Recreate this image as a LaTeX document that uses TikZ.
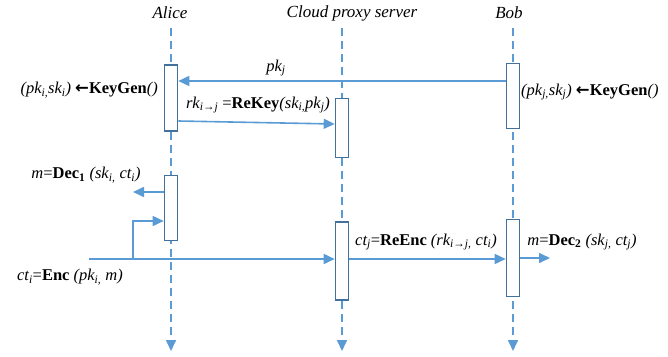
\documentclass[tikz,border=0pt]{standalone}
\usepackage{fontspec}
\setmainfont{Liberation Serif}
\newfontfamily\arrowfont{DejaVu Sans}
\usetikzlibrary{arrows.meta}
\definecolor{msgblue}{HTML}{5B9BD5}
\definecolor{boxblue}{HTML}{41719C}
\newcommand{\getsarrow}{{\arrowfont\bfseries ←}}

\begin{document}
\begin{tikzpicture}[x=1pt, y=-1pt,
  lifeline/.style={msgblue, line width=1.6pt, dash pattern=on 8pt off 5pt,
    -{Triangle[length=11pt,width=10pt]}},
  msg/.style={msgblue, line width=1.6pt, -{Triangle[length=11pt,width=10pt]}},
  actbox/.style={draw=boxblue, fill=white, line width=1.6pt, minimum width=13pt, inner sep=0pt},
  party/.style={font=\fontsize{17}{20}\selectfont\itshape},
  lbl/.style={font=\fontsize{16.5}{19}\selectfont, inner sep=0pt}]
  \def\xa{171} \def\xc{342} \def\xb{513}

  \useasboundingbox (0,0) rectangle (668,356);

  % parties
  \node[party] (alice) at (170,13) {Alice};
  \node[party] (cloud) at (352,13) {Cloud proxy server};
  \node[party] (bob) at (509,13) {Bob};

  % lifelines
  \coordinate (atop) at (\xa,28); \coordinate (aend) at (\xa,351);
  \coordinate (ctop) at (\xc,28); \coordinate (cend) at (\xc,351);
  \coordinate (btop) at (\xb,28); \coordinate (bend) at (\xb,351);
  \draw[lifeline] (atop) -- (aend);
  \draw[lifeline] (ctop) -- (cend);
  \draw[lifeline] (btop) -- (bend);

  % activation boxes
  \node[actbox, minimum height=66pt] (a1) at (\xa,98) {};
  \node[actbox, minimum height=65pt] (a2) at (\xa,208) {};
  \node[actbox, minimum height=59pt] (c1) at (\xc,128) {};
  \node[actbox, minimum height=78pt] (c2) at (\xc,261) {};
  \node[actbox, minimum height=65pt] (b1) at (\xb,96) {};
  \node[actbox, minimum height=77pt] (b2) at (\xb,258) {};

  % key generation
  \node[lbl, anchor=east] (kga) at (158,90)
    {\textit{(pk\textsubscript{i,}sk\textsubscript{i})} \getsarrow\textbf{KeyGen}\textit{()}};
  \node[lbl, anchor=west] (kgb) at (521,92)
    {\textit{(pk\textsubscript{j,}sk\textsubscript{j})} \getsarrow\textbf{KeyGen}\textit{()}};

  % Bob sends pk_j
  \coordinate (ypk) at (0,81);
  \draw[msg] (b1.west |- ypk) -- (a1.east |- ypk);
  \node[lbl] (pk) at (276,68) {\textit{pk\textsubscript{j}}};

  % re-encryption key
  \coordinate (yrka) at (0,121); \coordinate (yrkb) at (0,124);
  \draw[msg] (a1.east |- yrka) -- (c1.west |- yrkb);
  \node[lbl] (rk) at (258,105)
    {\textit{rk\textsubscript{i→j}} =\textbf{ReKey}\textit{(sk\textsubscript{i,}pk\textsubscript{j})}};

  % Alice decrypts
  \coordinate (dec1) at (133,192);
  \draw[msg] (a2.west |- dec1) -- (dec1);
  \node[lbl] (dec1lbl) at (86,175)
    {\textit{m}=\textbf{Dec\textsubscript{1}} \textit{(sk\textsubscript{i,} ct\textsubscript{i})}};

  % encryption, to Alice and to the proxy
  \coordinate (enc) at (89,259); \coordinate (encturn) at (133,259);
  \coordinate (yenc) at (0,221);
  \draw[msg] (enc) -- (c2.west |- enc);
  \draw[msg] (encturn) |- (a2.west |- yenc);
  \node[lbl] (enclbl) at (70,277)
    {\textit{ct\textsubscript{i}}=\textbf{Enc} \textit{(pk\textsubscript{i,} m)}};

  % proxy re-encrypts for Bob
  \draw[msg] (c2.east |- enc) -- (b2.west |- enc);
  \node[lbl] (reenc) at (426,242)
    {\textit{ct\textsubscript{j}}=\textbf{ReEnc} \textit{(rk\textsubscript{i→j,} ct\textsubscript{i})}};

  % Bob decrypts
  \coordinate (dec2) at (550,258);
  \draw[msg] (b2.east |- dec2) -- (dec2);
  \node[lbl] (dec2lbl) at (582,242)
    {\textit{m}=\textbf{Dec\textsubscript{2}} \textit{(sk\textsubscript{j,} ct\textsubscript{j})}};
\end{tikzpicture}
\end{document}
